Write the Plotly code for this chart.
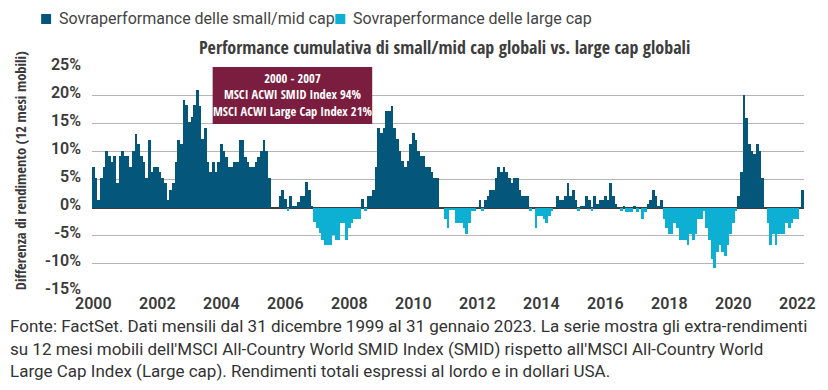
import plotly.graph_objects as go

# Rolling 12-month return difference (SMID minus Large cap), %, one value per month
values = [
    7.2, 5.2, 1.3, 5.2, 7.2, 10.1, 9.2, 8.2, 9.2, 4.3,
    9.2, 10.1, 9.2, 9.2, 7.2, 10.1, 13.1, 11.3, 9.2, 8.2,
    5.2, 12.1, 6.3, 7.2, 7.2, 6.3, 5.2, 4.3, 1.3, 3.2,
    4.3, 8.2, 12.1, 11.3, 19.1, 18.2, 15.2, 16.1, 18.2, 21.0,
    18.1, 12.3, 14.1, 8.1, 6.3, 8.1, 6.3, 8.1, 11.3, 10.1,
    9.1, 7.2, 7.2, 8.1, 8.1, 12.1, 12.1, 9.1, 8.1, 7.2,
    7.2, 8.1, 9.1, 10.1, 12.1, 10.1, 5.2, 0, 0, 0,
    2.1, 3.2, 1.5, -0.7, 2.1, 0.2, 0.2, 1.0, 2.1, 2.1,
    4.5, 3.1, 0.2, -2.5, -3.7, -4.6, -5.8, -6.7, -6.7, -6.7,
    -4.9, -5.8, -5.8, -2.8, -2.8, -5.8, -3.7, -2.8, -2.0, -2.0,
    -2.0, 1.5, -0.7, 2.1, 2.1, 3.1, 7.2, 14.1, 13.2, 14.1,
    17.2, 17.2, 18.1, 14.1, 12.3, 10.1, 8.3, 7.2, 8.3, 11.3,
    13.2, 12.1, 10.1, 9.2, 9.2, 7.2, 7.2, 6.3, 5.2, 5.2,
    0, 0, -2.0, -3.7, -0.5, -0.5, -2.8, -2.8, -2.8, -3.7,
    -4.8, -2.8, -0.6, -0.6, 0, 1.3, -0.6, 1.3, 2.1, 3.2,
    3.2, 5.2, 7.2, 6.3, 7.2, 6.3, 5.2, 4.3, 5.2, 5.2,
    3.2, 2.1, 2.1, 2.1, -0.7, 0, -3.7, -1.5, -1.5, -2.0,
    -2.8, -1.5, -0.6, 0, 2.1, 1.3, 1.3, 2.1, 4.3, 2.1,
    3.2, 1.3, -0.7, 0.3, 0.3, 2.1, 1.3, -0.7, 2.1, 0.6,
    1.3, 1.3, 2.1, 1.3, 4.3, 2.1, 0.6, 0, -0.7, 0.2,
    -0.8, -0.8, -0.8, 0.3, -0.8, 0, -2.0, -0.8, 0.6, 1.3,
    3.2, 2.1, 0.3, 1.3, -2.0, -3.7, -4.8, -4.8, -2.8, -3.7,
    -5.8, -5.8, -5.8, -6.7, -4.8, -5.8, -4.8, -2.0, -2.0, -0.7,
    -3.7, -5.8, -9.2, -10.7, -8.0, -6.7, -8.0, -8.6, -6.7, -4.8,
    -2.8, -0.7, 2.1, 6.3, 20.1, 16.0, 11.3, 10.1, 9.5, 11.3,
    10.1, 5.2, 0, -2.8, -6.7, -4.8, -6.7, -4.8, -4.8, -4.8,
    -2.8, -3.7, -2.8, -2.0, -2.0, 0, 3.2,
]
start_year = 2000              # first bar sits on the first tick
tick_years = list(range(2000, 2023, 2))
tick_labels = [str(y) for y in tick_years]
y_ticks = [-15, -10, -5, 0, 5, 10, 15, 20, 25]
y_labels = [f"{t}%" for t in y_ticks]
series_names = ["Sovraperformance delle small/mid cap", "Sovraperformance delle large cap"]
box_lines = ["2000 - 2007", "MSCI ACWI SMID Index 94%", "MSCI ACWI Large Cap Index 21%"]
title_text = "Performance cumulativa di small/mid cap globali vs. large cap globali"
y_title = "Differenza di rendimento (12 mesi mobili)"
footer = [
    "Fonte: FactSet. Dati mensili dal 31 dicembre 1999 al 31 gennaio 2023. La serie mostra gli extra-rendimenti",
    "su 12 mesi mobili dell'MSCI All-Country World SMID Index (SMID) rispetto all'MSCI All-Country World",
    "Large Cap Index (Large cap). Rendimenti totali espressi al lordo e in dollari USA.",
]

DARK = "#04577a"
LIGHT = "#0db0d2"
COND = "Open Sans Condensed, Roboto Condensed, sans-serif"

# page has an 8px body margin: work in page pixels and convert
OFF = 8
W, H = 820, 382
L, R, T, B = 92 - OFF, 30 - OFF, 67 - OFF, 390 - 284 - OFF
PW, PH = W - L - R, H - T - B


def px(p):
    return (p - OFF - L) / PW


def py(p):
    return (H - B - (p - OFF)) / PH


n = len(values)
x = [start_year + i / 12 for i in range(n)]
pos = [v if v > 0 else None for v in values]
neg = [v if v < 0 else None for v in values]
x_lo = start_year - 1 / 24
x_hi = start_year + (n - 1) / 12 + 1 / 24
yr_px = PW / (x_hi - x_lo)


def xd(p):  # page pixel -> data x
    return x_lo + (p - OFF - L) / yr_px


fig = go.Figure()
fig.add_trace(go.Bar(x=x, y=pos, width=1 / 12, marker=dict(color=DARK, line=dict(width=0)),
                     name=series_names[0], showlegend=False))
fig.add_trace(go.Bar(x=x, y=neg, width=1 / 12, marker=dict(color=LIGHT, line=dict(width=0)),
                     name=series_names[1], showlegend=False))

shapes = []
annotations = []
for sx, tx, col, name in [(41, 57, DARK, series_names[0]), (336, 352, LIGHT, series_names[1])]:
    shapes.append(dict(type="rect", xref="paper", yref="paper", x0=px(sx), x1=px(sx + 10),
                       y0=py(24), y1=py(14), fillcolor=col, line=dict(width=0)))
    annotations.append(dict(xref="paper", yref="paper", x=px(tx), y=py(19), xanchor="left",
                            yanchor="middle", text=name, showarrow=False,
                            font=dict(family="Roboto, sans-serif", size=16, color="#444444")))
annotations.append(dict(xref="paper", yref="paper", x=px(445), y=py(47), xanchor="center", yanchor="middle",
                        text="<b>" + title_text + "</b>", showarrow=False,
                        font=dict(family=COND, size=18, color="#3d3d3d")))
annotations.append(dict(xref="paper", yref="paper", x=px(20), y=py(171), xanchor="center", yanchor="middle",
                        text="<b>" + y_title + "</b>", textangle=-90, showarrow=False,
                        font=dict(family=COND, size=14.5, color="#3a3a3a")))
shapes.append(dict(type="rect", xref="x", yref="y", x0=xd(213), x1=xd(373), y0=14.9, y1=25.2,
                   fillcolor="#7b1d3e", line=dict(width=0), layer="above"))
annotations.append(dict(xref="x", yref="y", x=xd(293), y=20.05, xanchor="center", yanchor="middle",
                        text="<b>" + "<br>".join(box_lines) + "</b>", showarrow=False, align="center",
                        font=dict(family=COND, size=12.5, color="white")))
for i, line in enumerate(footer):
    annotations.append(dict(xref="paper", yref="paper", x=px(8), y=py(326 + 22.5 * i), xanchor="left",
                            yanchor="middle", text=line, showarrow=False,
                            font=dict(family="Roboto, sans-serif", size=17, color="#333333")))

fig.update_layout(
    width=W, height=H, margin=dict(l=L, r=R, t=T, b=B),
    paper_bgcolor="white", plot_bgcolor="white",
    barmode="overlay", bargap=0,
    showlegend=False,
    shapes=shapes, annotations=annotations,
    xaxis=dict(range=[x_lo, x_hi], tickvals=tick_years, ticktext=tick_labels,
               showgrid=False, zeroline=False, showline=False, ticks="",
               tickfont=dict(family="Roboto, sans-serif", size=16, color="#3a3a3a", weight=600)),
    yaxis=dict(range=[-15.05, 25.05], tickvals=y_ticks, ticktext=y_labels,
               showgrid=True, gridcolor="#b5b5b5", gridwidth=1,
               zeroline=True, zerolinecolor="#3c3c3c", zerolinewidth=2,
               ticks="", ticklabelstandoff=10, ticklabelshift=-3,
               tickfont=dict(family="Roboto, sans-serif", size=16, color="#3a3a3a", weight=600)),
)

fig.write_html("out.html")
